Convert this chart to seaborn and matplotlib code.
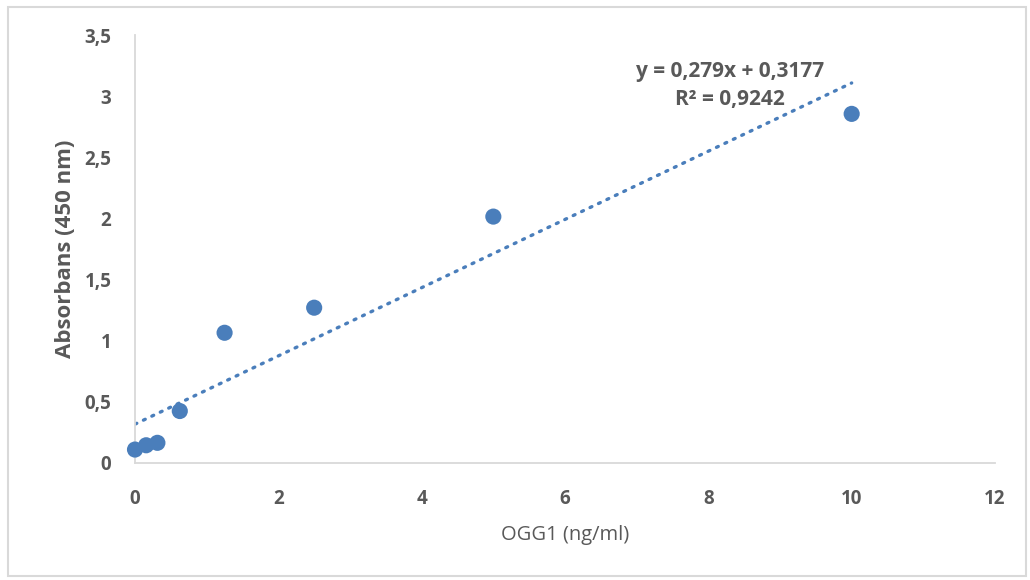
import matplotlib
matplotlib.use("Agg")
import matplotlib.pyplot as plt
import seaborn as sns
import numpy as np
import pandas as pd
from matplotlib.patches import Rectangle

conc = [0.0, 0.156, 0.3125, 0.625, 1.25, 2.5, 5.0, 10.0]
absorb = [0.11, 0.145, 0.165, 0.425, 1.065, 1.27, 2.015, 2.855]
slope = 0.279
intercept = 0.3177
eq_text = "y = 0,279x + 0,3177"
r2_text = "R² = 0,9242"
x_ticks = [0, 2, 4, 6, 8, 10, 12]
y_ticks = [0, 0.5, 1, 1.5, 2, 2.5, 3, 3.5]
y_tick_labels = ["0", "0,5", "1", "1,5", "2", "2,5", "3", "3,5"]

sns.set_style("white")
plt.rcParams['font.family'] = ['Open Sans', 'DejaVu Sans']

fig = plt.figure(figsize=(10.3, 5.8), dpi=100)
ax = fig.add_axes([135/1030, 1-463/580, (995-135)/1030, (463-35)/580])

df = pd.DataFrame({"x": conc, "y": absorb})
blue = "#4a7ebb"
fit_x = np.array([min(conc), max(conc)])
fit_y = slope * fit_x + intercept
sns.lineplot(x=fit_x, y=fit_y, ax=ax, color=blue, linewidth=2.4,
             linestyle=(0, (0.6, 2.2)), zorder=2)
ax.lines[-1].set_dash_capstyle("round")
sns.scatterplot(data=df, x="x", y="y", ax=ax, color=blue, s=135,
                edgecolor="none", zorder=3, clip_on=False)

ax.set_xlim(0, 12)
ax.set_ylim(0, 3.5)
ax.set_xticks(x_ticks)
ax.set_xticklabels([str(t) for t in x_ticks])
ax.set_yticks(y_ticks)
ax.set_yticklabels(y_tick_labels)
txtc = "#595959"
ax.tick_params(axis="both", length=0, labelsize=13.5, labelcolor=txtc)
ax.tick_params(axis="x", pad=19)
ax.tick_params(axis="y", pad=17)
for lab in ax.get_xticklabels() + ax.get_yticklabels():
    lab.set_fontweight("bold")

for s in ["top", "right"]:
    ax.spines[s].set_visible(False)
for s in ["left", "bottom"]:
    ax.spines[s].set_color("#d9d9d9")
    ax.spines[s].set_linewidth(1.3)

ax.set_xlabel("OGG1 (ng/ml)", fontsize=14.5, color=txtc, labelpad=11)
ax.set_ylabel("Absorbans (450 nm)", fontsize=16, color=txtc, fontweight="bold", labelpad=6)

ax.text(8.3, 3.2, eq_text, ha="center", va="center", fontsize=15,
        color=txtc, fontweight="bold")
ax.text(8.3, 2.97, r2_text, ha="center", va="center", fontsize=15,
        color=txtc, fontweight="bold")

fig.patches.append(Rectangle((8/1030, 1-576/580), 1018/1030, 569/580,
                             transform=fig.transFigure, fill=False,
                             edgecolor="#d9d9d9", linewidth=1.5))

fig.savefig("out.png", dpi=100, facecolor="white")
